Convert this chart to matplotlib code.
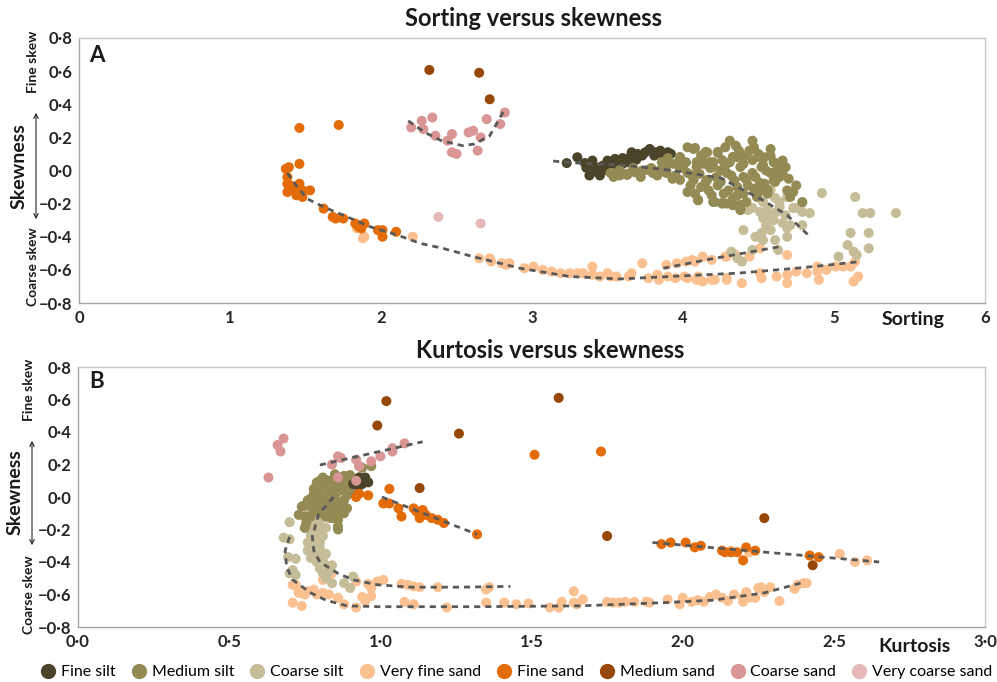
import matplotlib
matplotlib.use("Agg")
import matplotlib.pyplot as plt
from matplotlib.lines import Line2D
from matplotlib.patches import FancyArrowPatch
from matplotlib.ticker import FuncFormatter, MultipleLocator

plt.rcParams['font.family'] = ['Lato', 'DejaVu Sans']

W, H = 997, 682

# colours per grain-size class
classes = ['Fine silt', 'Medium silt', 'Coarse silt', 'Very fine sand',
           'Fine sand', 'Medium sand', 'Coarse sand', 'Very coarse sand']
colors = {'Fine silt': '#4A452A', 'Medium silt': '#948A54', 'Coarse silt': '#C4BD97',
          'Very fine sand': '#FAC090', 'Fine sand': '#E36C09', 'Medium sand': '#974806',
          'Coarse sand': '#D99694', 'Very coarse sand': '#E6B9B8'}

# ---------------- Panel A: sorting vs skewness ----------------
a_fine_silt = [(3.23, 0.045), (3.30, 0.08), (3.35, 0.045), (3.36, 0.016), (3.40, 0.06), (3.42, 0.0),
               (3.45, -0.03), (3.47, 0.03), (3.50, 0.06), (3.52, 0.016), (3.55, 0.07), (3.57, 0.04),
               (3.60, 0.075), (3.64, 0.05), (3.66, 0.11), (3.69, 0.065), (3.73, 0.09), (3.78, 0.13),
               (3.81, 0.09), (3.85, 0.12), (3.90, 0.11), (3.92, 0.10), (3.38, -0.03), (3.43, -0.01),
               (3.40, 0.03), (3.45, 0.02), (3.50, 0.0), (3.55, 0.03), (3.60, 0.04), (3.65, 0.08),
               (3.70, 0.10), (3.75, 0.11), (3.82, 0.11), (3.87, 0.09)]
a_medium_silt = [(3.53, -0.015), (3.58, -0.03), (3.63, -0.02), (3.68, -0.01), (3.73, 0.0), (3.79, 0.015),
                 (3.83, -0.03), (3.86, 0.05), (3.90, 0.075), (3.89, 0.0), (3.95, -0.03), (3.98, 0.075),
                 (4.00, 0.015), (4.03, -0.13), (4.06, -0.03), (4.07, 0.13), (4.09, 0.05), (4.10, -0.18),
                 (4.13, 0.09), (4.15, -0.07), (4.18, 0.015), (4.20, 0.05), (4.20, -0.19), (4.23, -0.09),
                 (4.26, -0.20), (4.28, 0.03), (4.31, 0.18), (4.32, -0.03), (4.33, -0.21), (4.36, -0.15),
                 (4.46, 0.18), (4.16, 0.11), (4.23, 0.106), (4.36, 0.08), (4.41, 0.09), (4.54, 0.08),
                 (4.61, 0.045), (4.68, 0.02), (4.66, -0.02), (4.60, -0.06), (4.75, -0.09), (4.73, -0.13),
                 (4.79, -0.19), (4.54, -0.08), (4.56, -0.14), (4.49, -0.16), (4.42, -0.19), (4.38, -0.23),
                 (4.29, -0.20), (4.21, -0.19), (3.98, 0.021), (4.03, -0.015), (4.09, 0.021), (4.20, 0.021),
                 (4.29, -0.015), (4.38, 0.021), (4.46, -0.015), (4.36, -0.10), (4.42, -0.057), (4.25, -0.069),
                 (4.16, -0.057), (4.07, -0.057), (4.46, 0.063), (4.52, 0.021), (4.50, 0.082), (4.58, -0.015),
                 (4.33, 0.082), (4.26, 0.063), (4.18, 0.051), (3.98, 0.082), (3.90, 0.045), (3.85, 0.003),
                 (3.76, 0.003), (3.67, 0.015), (3.58, 0.003), (3.52, -0.015), (3.54, -0.039), (3.63, -0.027),
                 (3.72, -0.039), (3.80, -0.015), (3.89, -0.015), (3.98, -0.057), (4.03, 0.14), (4.08, 0.136),
                 (4.15, 0.112), (4.23, 0.112), (4.40, -0.039), (4.53, 0.033), (4.60, 0.051), (4.64, 0.015),
                 (4.64, -0.039), (4.69, -0.12), (4.61, -0.069), (4.56, -0.118), (4.51, -0.075), (4.10, -0.178),
                 (4.26, -0.196), (4.38, -0.208), (4.38, -0.239), (4.12, -0.10), (4.30, -0.12), (4.47, -0.11),
                 (4.02, 0.05), (4.05, -0.09), (4.11, -0.02), (4.14, 0.04), (4.17, -0.12), (4.22, -0.04),
                 (4.25, 0.0), (4.27, -0.14), (4.31, 0.05), (4.34, -0.06), (4.37, 0.12), (4.40, 0.04),
                 (4.43, -0.09), (4.44, 0.12), (4.48, -0.04), (4.50, 0.10), (4.52, -0.12), (4.55, 0.0),
                 (4.58, 0.09), (4.62, 0.0), (4.66, 0.06), (4.70, -0.05), (4.71, -0.16), (4.33, -0.17),
                 (4.19, -0.15), (4.08, -0.14), (3.94, 0.04), (3.93, -0.05), (4.28, 0.14), (4.35, 0.15),
                 (4.12, 0.09), (4.47, 0.14), (4.40, -0.14), (4.58, 0.13)]
a_coarse_silt = [(4.49, -0.136), (4.58, -0.118), (4.61, -0.166), (4.64, -0.19), (4.69, -0.16), (4.53, -0.19),
                 (4.46, -0.226), (4.43, -0.239), (4.51, -0.25), (4.56, -0.239), (4.62, -0.25), (4.68, -0.27),
                 (4.74, -0.226), (4.79, -0.25), (4.84, -0.257), (4.53, -0.287), (4.60, -0.30), (4.66, -0.317),
                 (4.71, -0.33), (4.79, -0.33), (4.92, -0.136), (4.79, -0.196), (4.40, -0.36), (4.52, -0.377),
                 (4.58, -0.36), (4.53, -0.42), (4.61, -0.42), (4.69, -0.40), (4.69, -0.347), (4.32, -0.49),
                 (4.36, -0.53), (4.39, -0.55), (4.46, -0.48), (4.63, -0.48), (4.73, -0.226),
                 (4.55, -0.33), (4.64, -0.22), (4.57, -0.27), (4.48, -0.40),
                 (5.14, -0.16), (5.19, -0.257), (5.24, -0.257), (5.41, -0.257), (5.11, -0.377), (5.23, -0.377),
                 (5.09, -0.45), (5.13, -0.49), (5.23, -0.47), (5.03, -0.52), (5.15, -0.51)]
a_very_fine_sand = [(1.84, -0.35), (1.89, -0.40), (2.21, -0.40), (1.88, -0.41), (2.65, -0.53), (2.72, -0.53),
                    (2.73, -0.55), (2.80, -0.56), (2.85, -0.56), (2.83, -0.57), (2.95, -0.59), (3.01, -0.58),
                    (3.07, -0.60), (3.13, -0.61), (3.19, -0.62), (3.25, -0.62), (3.30, -0.62), (3.34, -0.62),
                    (3.40, -0.58), (3.40, -0.63), (3.45, -0.64), (3.50, -0.62), (3.52, -0.64), (3.56, -0.64),
                    (3.66, -0.62), (3.64, -0.64), (3.73, -0.56), (3.77, -0.65), (3.83, -0.63), (3.84, -0.66),
                    (3.90, -0.64), (3.95, -0.65), (4.03, -0.65), (4.09, -0.66), (4.13, -0.67), (4.21, -0.66),
                    (4.29, -0.66), (4.01, -0.64), (4.10, -0.64), (4.19, -0.66), (4.29, -0.65), (4.39, -0.68),
                    (4.51, -0.62), (4.52, -0.65), (4.62, -0.64), (4.69, -0.63), (4.69, -0.68), (4.75, -0.61),
                    (4.82, -0.62), (4.89, -0.58), (4.89, -0.61), (4.90, -0.66), (4.95, -0.60), (5.01, -0.58),
                    (5.06, -0.58), (5.11, -0.58), (5.14, -0.55), (5.13, -0.67), (5.16, -0.64)]
a_very_fine_sand_upper = [(3.89, -0.57), (3.96, -0.56), (4.02, -0.55), (4.08, -0.55), (4.13, -0.52),
                          (4.19, -0.54), (4.28, -0.52), (4.29, -0.52), (4.35, -0.51), (4.44, -0.52),
                          (4.51, -0.47), (4.69, -0.51), (4.06, -0.54)]
a_fine_sand = [(1.46, 0.257), (1.72, 0.275), (1.46, 0.04), (1.37, 0.01), (1.39, 0.02), (1.38, -0.04),
               (1.38, -0.08), (1.40, -0.09), (1.46, -0.08), (1.38, -0.13), (1.43, -0.12), (1.48, -0.12),
               (1.53, -0.12), (1.44, -0.15), (1.48, -0.16), (1.62, -0.23), (1.68, -0.28), (1.70, -0.29),
               (1.75, -0.29), (1.83, -0.32), (1.85, -0.34), (1.89, -0.32), (1.87, -0.35), (1.98, -0.36),
               (2.01, -0.40), (2.01, -0.36), (2.10, -0.37)]
a_medium_sand = [(2.32, 0.607), (2.65, 0.59), (2.72, 0.43)]
a_coarse_sand = [(2.20, 0.26), (2.27, 0.30), (2.34, 0.32), (2.28, 0.25), (2.36, 0.21), (2.44, 0.18),
                 (2.47, 0.22), (2.47, 0.11), (2.50, 0.10), (2.58, 0.23), (2.61, 0.24), (2.66, 0.20),
                 (2.64, 0.12), (2.70, 0.31), (2.79, 0.28), (2.82, 0.35)]
a_very_coarse_sand = [(2.38, -0.28), (2.66, -0.32)]

# dashed trend guides
a_trends = [
    [(1.38, -0.015), (1.43, -0.08), (1.51, -0.17), (1.62, -0.22), (1.75, -0.27), (1.93, -0.34),
     (2.11, -0.39), (2.26, -0.44), (2.41, -0.47), (2.61, -0.52), (2.92, -0.59), (3.25, -0.64),
     (3.58, -0.655), (3.91, -0.64), (4.36, -0.62), (4.75, -0.59), (4.97, -0.57), (5.17, -0.55)],
    [(3.87, -0.59), (4.18, -0.535), (4.64, -0.46)],
    [(2.18, 0.30), (2.29, 0.23), (2.40, 0.18), (2.54, 0.15), (2.62, 0.16), (2.72, 0.21), (2.82, 0.37)],
    [(3.14, 0.057), (3.30, 0.045), (3.60, 0.033), (3.93, 0.0), (4.25, -0.045), (4.31, -0.075),
     (4.53, -0.18), (4.69, -0.27), (4.83, -0.39)],
]

# ---------------- Panel B: kurtosis vs skewness ----------------
b_fine_silt = [(0.92, 0.10), (0.93, 0.12), (0.94, 0.08), (0.95, 0.10), (0.91, 0.08), (0.93, 0.07),
               (0.95, 0.12), (0.96, 0.09), (0.94, 0.10)]
b_medium_silt = [(0.94, 0.18), (0.97, 0.19), (0.74, -0.06), (0.75, -0.12), (0.75, -0.19), (0.86, -0.20),
                 (0.88, -0.10), (0.90, 0.135), (0.79, 0.09), (0.83, 0.10), (0.87, 0.12), (0.745, -0.055),
                 (0.73, -0.11), (0.77, -0.01), (0.78, 0.05), (0.79, 0.08), (0.82, 0.105), (0.87, 0.095),
                 (0.80, 0.0), (0.83, 0.02), (0.87, 0.04), (0.90, 0.06), (0.92, 0.04), (0.81, -0.06),
                 (0.84, -0.04), (0.88, -0.02), (0.86, -0.10), (0.87, -0.08), (0.86, -0.18), (0.79, -0.05),
                 (0.78, -0.08), (0.77, -0.06), (0.76, -0.02), (0.83, 0.06), (0.85, 0.085), (0.89, 0.105),
                 (0.92, 0.09), (0.93, 0.12), (0.82, -0.01), (0.85, 0.01), (0.89, 0.01), (0.91, 0.025),
                 (0.93, 0.19), (0.755, -0.16), (0.77, -0.12), (0.89, -0.07), (0.80, 0.04), (0.84, -0.13),
                 (0.80, -0.10), (0.88, 0.07), (0.85, 0.14), (0.81, 0.12), (0.78, 0.02), (0.81, 0.07),
                 (0.84, 0.03), (0.86, 0.06), (0.89, 0.04), (0.91, 0.07), (0.83, -0.07), (0.85, -0.05),
                 (0.82, -0.03), (0.79, -0.02), (0.84, -0.10), (0.86, -0.14), (0.82, -0.12), (0.87, -0.03),
                 (0.90, 0.10), (0.88, 0.13), (0.80, 0.10)]
b_coarse_silt = [(0.70, -0.155), (0.68, -0.25), (0.70, -0.26), (0.695, -0.37), (0.72, -0.38), (0.71, -0.45),
                 (0.70, -0.47), (0.72, -0.48), (0.76, -0.12), (0.83, -0.13), (0.80, -0.15), (0.78, -0.19),
                 (0.80, -0.21), (0.77, -0.235), (0.79, -0.25), (0.76, -0.28), (0.80, -0.28), (0.78, -0.31),
                 (0.76, -0.33), (0.78, -0.35), (0.80, -0.35), (0.82, -0.35), (0.77, -0.375), (0.79, -0.40),
                 (0.82, -0.42), (0.84, -0.42), (0.81, -0.47), (0.82, -0.50), (0.84, -0.53), (0.88, -0.53),
                 (0.90, -0.56), (0.91, -0.49), (0.76, -0.11), (0.78, -0.22), (0.80, -0.31), (0.77, -0.16),
                 (0.79, -0.17), (0.775, -0.27), (0.79, -0.29), (0.77, -0.32), (0.79, -0.37), (0.81, -0.39),
                 (0.80, -0.44), (0.83, -0.46), (0.82, -0.19), (0.81, -0.24)]
b_very_fine_sand = [(0.72, -0.54), (0.73, -0.58), (0.76, -0.58), (0.78, -0.57), (0.79, -0.60), (0.83, -0.60),
                    (0.86, -0.62), (0.88, -0.66), (0.92, -0.68), (0.71, -0.65), (0.74, -0.67), (0.81, -0.51),
                    (0.84, -0.47), (0.92, -0.52), (0.96, -0.535), (0.97, -0.56), (0.99, -0.52), (1.01, -0.51),
                    (0.94, -0.615), (0.97, -0.61), (0.95, -0.64), (1.07, -0.535), (1.09, -0.54), (1.11, -0.55),
                    (1.13, -0.555), (1.19, -0.555), (1.08, -0.645), (1.11, -0.66), (1.22, -0.68), (1.36, -0.555),
                    (1.35, -0.65), (1.41, -0.65), (1.45, -0.66), (1.35, -0.57), (1.49, -0.655), (1.56, -0.68),
                    (1.59, -0.68), (1.60, -0.645), (1.64, -0.58), (1.64, -0.65), (1.65, -0.66), (1.67, -0.63),
                    (1.75, -0.645), (1.77, -0.65), (1.79, -0.65), (1.81, -0.645), (1.84, -0.645), (1.88, -0.645),
                    (1.89, -0.65), (1.95, -0.63), (1.99, -0.66), (2.00, -0.62), (2.03, -0.645), (2.05, -0.635),
                    (2.07, -0.645), (2.09, -0.615), (2.11, -0.60), (2.13, -0.62), (2.15, -0.64), (2.17, -0.60),
                    (2.20, -0.62), (2.21, -0.585), (2.20, -0.645), (2.22, -0.62), (2.24, -0.62), (2.25, -0.56),
                    (2.26, -0.555), (2.27, -0.585), (2.29, -0.555), (2.32, -0.64), (2.37, -0.565), (2.38, -0.54),
                    (2.40, -0.53), (2.41, -0.53), (0.71, -0.54), (0.73, -0.59), (0.75, -0.60), (0.81, -0.59)]
b_very_fine_sand_right = [(2.22, -0.34), (2.16, -0.33), (2.52, -0.35), (2.57, -0.40), (2.61, -0.39)]
b_fine_sand = [(1.03, 0.05), (0.93, 0.02), (0.92, 0.0), (0.96, 0.01), (1.01, -0.04), (1.03, -0.04),
               (1.06, -0.07), (1.07, -0.12), (1.11, -0.07), (1.12, -0.09), (1.14, -0.08), (1.13, -0.13),
               (1.15, -0.11), (1.17, -0.13), (1.19, -0.14), (1.21, -0.16), (1.32, -0.23), (1.51, 0.26),
               (1.73, 0.28), (1.93, -0.29), (1.96, -0.28), (2.01, -0.28), (2.04, -0.31), (2.06, -0.30),
               (2.13, -0.33), (2.14, -0.34), (2.16, -0.34), (2.18, -0.34), (2.20, -0.39), (2.21, -0.31),
               (2.24, -0.33), (2.42, -0.36), (2.45, -0.37)]
b_medium_sand = [(1.02, 0.59), (0.99, 0.44), (1.26, 0.39), (1.13, 0.055), (1.59, 0.61), (1.75, -0.24),
                 (2.27, -0.13), (2.43, -0.42)]
b_coarse_sand = [(0.63, 0.12), (0.66, 0.32), (0.68, 0.36), (0.67, 0.28), (0.84, 0.20), (0.86, 0.25),
                 (0.87, 0.24), (0.92, 0.23), (0.93, 0.19), (0.97, 0.22), (1.00, 0.25), (1.04, 0.28),
                 (1.04, 0.30), (1.08, 0.33), (0.86, 0.12), (0.92, 0.10)]

b_trends = [
    [(0.80, 0.197), (1.14, 0.34)],
    [(1.005, 0.0), (1.32, -0.23)],
    [(1.90, -0.28), (2.65, -0.40)],
    [(0.845, 0.0), (0.795, -0.11), (0.775, -0.245), (0.78, -0.33), (0.80, -0.40), (0.86, -0.47),
     (0.91, -0.51), (0.99, -0.54), (1.10, -0.555), (1.26, -0.555), (1.43, -0.55)],
    [(0.70, -0.245), (0.685, -0.33), (0.69, -0.43), (0.71, -0.51), (0.77, -0.59), (0.82, -0.635),
     (0.89, -0.67), (0.99, -0.675), (1.33, -0.675), (1.66, -0.67), (1.94, -0.65), (2.10, -0.635),
     (2.27, -0.59), (2.39, -0.53)],
]

a_series = [('Very fine sand', a_very_fine_sand), ('Very fine sand', a_very_fine_sand_upper),
            ('Coarse silt', a_coarse_silt), ('Fine silt', a_fine_silt), ('Medium silt', a_medium_silt),
            ('Fine sand', a_fine_sand), ('Medium sand', a_medium_sand), ('Coarse sand', a_coarse_sand),
            ('Very coarse sand', a_very_coarse_sand)]
b_series = [('Very fine sand', b_very_fine_sand), ('Very fine sand', b_very_fine_sand_right),
            ('Coarse silt', b_coarse_silt), ('Medium silt', b_medium_silt), ('Fine silt', b_fine_silt),
            ('Fine sand', b_fine_sand), ('Medium sand', b_medium_sand), ('Coarse sand', b_coarse_sand)]


def dot_fmt(v, nd=1):
    s = f"{v:.{nd}f}"
    if s.startswith('-'):
        s = '\u2212' + s[1:]
    if s == '\u22120.0':
        s = '0.0'
    return s.replace('.', '\u00b7')


fig = plt.figure(figsize=(W / 100, H / 100), dpi=100)
axA = fig.add_axes([79 / W, 1 - 303 / H, 906 / W, 265 / H])
axB = fig.add_axes([78 / W, 1 - 627 / H, 907 / W, 260 / H])


def style(ax, xmax, xstep, xnd):
    ax.set_ylim(-0.8, 0.8)
    ax.set_xlim(0, xmax)
    ax.yaxis.set_major_locator(MultipleLocator(0.2))
    ax.xaxis.set_major_locator(MultipleLocator(xstep))
    ax.yaxis.set_major_formatter(FuncFormatter(lambda v, p: dot_fmt(v, 1)))
    ax.xaxis.set_major_formatter(FuncFormatter(lambda v, p: dot_fmt(v, xnd)))
    ax.tick_params(length=0, labelsize=12, pad=5, labelcolor='#262626')
    for lab in ax.get_xticklabels() + ax.get_yticklabels():
        lab.set_fontweight('bold')
    for sp in ax.spines.values():
        sp.set_color('#c8c8c8')
        sp.set_linewidth(1.0)
    ax.spines['left'].set_color('#a6a6a6')
    ax.spines['bottom'].set_color('#a6a6a6')


def draw(ax, series, trends):
    for name, pts in series:
        xs = [p[0] for p in pts]
        ys = [p[1] for p in pts]
        ax.scatter(xs, ys, s=52, color=colors[name], edgecolors='none', zorder=2)
    for tr in trends:
        ax.plot([p[0] for p in tr], [p[1] for p in tr], color='#595959', lw=2.0,
                linestyle=(0, (2.2, 1.8)), zorder=3)


draw(axA, a_series, a_trends)
draw(axB, b_series, b_trends)
style(axA, 6, 1, 0)
style(axB, 3.0, 0.5, 1)


def ftext(x, y, s, **kw):
    fig.text(x / W, 1 - y / H, s, ha='center', va='center', **kw)


ftext(533, 19, 'Sorting versus skewness', fontsize=17, fontweight='bold', color='#1a1a1a')
ftext(550, 350, 'Kurtosis versus skewness', fontsize=17, fontweight='bold', color='#1a1a1a')
ftext(97, 55, 'A', fontsize=16, fontweight='bold', color='#1a1a1a')
ftext(97, 382, 'B', fontsize=16, fontweight='bold', color='#1a1a1a')
ftext(913, 320, 'Sorting', fontsize=14, fontweight='bold', color='#1a1a1a')
ftext(914, 646, 'Kurtosis', fontsize=14, fontweight='bold', color='#1a1a1a')

for yc, ys, xs, xa, ya0, ya1 in [(166, 62, 33, 36, 110, 222), (492, 390, 29, 32, 438, 548)]:
    ftext(xs - 14, yc, 'Skewness', fontsize=14, fontweight='bold', rotation=90, color='#1a1a1a')
    ftext(xs, ys, 'Fine skew', fontsize=10, fontweight='bold', rotation=90, color='#1a1a1a')
    ftext(xs, ys + 205, 'Coarse skew', fontsize=10, fontweight='bold', rotation=90, color='#1a1a1a')
    fig.add_artist(FancyArrowPatch((xa / W, 1 - ya0 / H), (xa / W, 1 - ya1 / H),
                                   transform=fig.transFigure, arrowstyle='<->',
                                   mutation_scale=8, lw=0.8, color='#262626'))

handles = [Line2D([], [], marker='o', linestyle='none', markersize=11, markerfacecolor=colors[c],
                  markeredgecolor='none') for c in classes]
fig.legend(handles, classes, loc='lower center', bbox_to_anchor=(0.518, -0.017), ncol=8, frameon=False,
           fontsize=11.5, handletextpad=0.3, columnspacing=0.95, handlelength=1.0)

fig.savefig('out.png', dpi=100)
